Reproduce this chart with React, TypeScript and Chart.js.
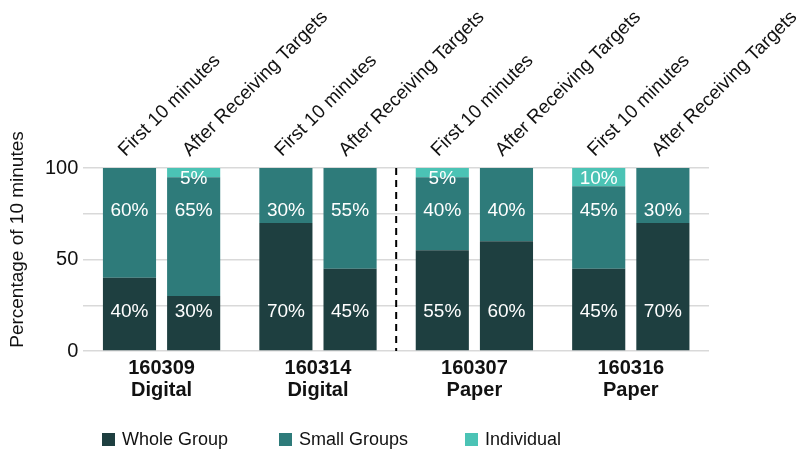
import React, { useEffect, useRef } from "react";
import { Chart, registerables } from "chart.js";

Chart.register(...registerables);

const categories: string[][] = [
  ["160309", "Digital"],
  ["160314", "Digital"],
  ["160307", "Paper"],
  ["160316", "Paper"],
];
const periods = ["First 10 minutes", "After Receiving Targets"];
const seriesNames = ["Whole Group", "Small Groups", "Individual"];

const wholeFirst = [40, 70, 55, 45];
const smallFirst = [60, 30, 40, 45];
const indivFirst = [0, 0, 5, 10];
const wholeAfter = [30, 45, 60, 70];
const smallAfter = [65, 55, 40, 30];
const indivAfter = [5, 0, 0, 0];

const yTickLabels = [0, 50, 100];
const yTitle = "Percentage of 10 minutes";

const COLORS = ["#1E3F40", "#2E7B7A", "#4BC3B5"];
const FONT = "'Liberation Sans', Arial, sans-serif";
// value levels where each series' percentage label is anchored
const LABEL_LEVELS = [22, 77, 94.5];

const valueLabels = {
  id: "valueLabels",
  afterDatasetsDraw(chart: any) {
    const { ctx } = chart;
    const y = chart.scales.y;
    ctx.save();
    ctx.fillStyle = "#ffffff";
    ctx.font = `19px ${FONT}`;
    ctx.textAlign = "center";
    ctx.textBaseline = "middle";
    chart.data.datasets.forEach((ds: any, i: number) => {
      const meta = chart.getDatasetMeta(i);
      const sIdx = ds.seriesIndex;
      meta.data.forEach((el: any, j: number) => {
        const v = ds.data[j];
        if (!v) return;
        ctx.fillText(`${v}%`, el.x, y.getPixelForValue(LABEL_LEVELS[sIdx]) + 1);
      });
    });
    ctx.restore();
  },
};

const periodLabels = {
  id: "periodLabels",
  afterDatasetsDraw(chart: any) {
    const { ctx, chartArea } = chart;
    ctx.save();
    ctx.fillStyle = "#111111";
    ctx.font = `19px ${FONT}`;
    ctx.textAlign = "left";
    ctx.textBaseline = "alphabetic";
    periods.forEach((p, pi) => {
      const dsIndex = pi * seriesNames.length;
      const meta = chart.getDatasetMeta(dsIndex);
      meta.data.forEach((el: any) => {
        ctx.save();
        ctx.translate(el.x - 4, chartArea.top - 11);
        ctx.rotate(-Math.PI / 4);
        ctx.fillText(p, 0, 0);
        ctx.restore();
      });
    });
    ctx.restore();
  },
};

const axisTitle = {
  id: "axisTitle",
  afterDraw(chart: any) {
    const { ctx, chartArea } = chart;
    ctx.save();
    ctx.fillStyle = "#111111";
    ctx.font = `19px ${FONT}`;
    ctx.textAlign = "center";
    ctx.textBaseline = "middle";
    ctx.translate(18, (chartArea.top + chartArea.bottom) / 2 - 20);
    ctx.rotate(-Math.PI / 2);
    ctx.fillText(yTitle, 0, 0);
    ctx.restore();
  },
};

const divider = {
  id: "divider",
  afterDatasetsDraw(chart: any) {
    const { ctx, chartArea } = chart;
    const x = chart.scales.x;
    const px = (x.getPixelForValue(1) + x.getPixelForValue(2)) / 2;
    ctx.save();
    ctx.strokeStyle = "#000000";
    ctx.lineWidth = 2;
    ctx.setLineDash([7, 5]);
    ctx.beginPath();
    ctx.moveTo(px, chartArea.top);
    ctx.lineTo(px, chartArea.bottom);
    ctx.stroke();
    ctx.restore();
  },
};

function ChartView() {
  const ref = useRef<HTMLCanvasElement | null>(null);
  useEffect(() => {
    if (!ref.current) return;
    const series = [
      [wholeFirst, smallFirst, indivFirst],
      [wholeAfter, smallAfter, indivAfter],
    ];
    const datasets: any[] = [];
    periods.forEach((p, pi) => {
      seriesNames.forEach((name, si) => {
        datasets.push({
          label: name,
          data: series[pi][si],
          backgroundColor: COLORS[si],
          borderWidth: 0,
          stack: p,
          seriesIndex: si,
          categoryPercentage: 0.8205,
          barPercentage: 0.828,
        });
      });
    });
    const chart = new Chart(ref.current, {
      type: "bar",
      data: { labels: categories, datasets },
      options: {
        responsive: false,
        animation: false,
        devicePixelRatio: 1,
        layout: { padding: { top: 168, right: 102, left: 40, bottom: 45 } },
        plugins: {
          legend: { display: false },
          tooltip: { enabled: false },
        },
        scales: {
          x: {
            stacked: true,
            grid: { display: false, drawTicks: false },
            border: { display: false },
            ticks: {
              color: "#111111",
              font: { family: FONT, size: 20, weight: "bold", lineHeight: 1.1 },
              padding: 6,
            },
          },
          y: {
            stacked: true,
            min: 0,
            max: 100,
            grid: { color: "#d9d9d9", lineWidth: 1.5, drawTicks: false },
            border: { display: false },
            ticks: {
              stepSize: 25,
              padding: 5,
              color: "#111111",
              font: { family: FONT, size: 20 },
              callback: (v: any) => (yTickLabels.includes(Number(v)) ? String(v) : ""),
            },
          },
        },
      },
      plugins: [valueLabels, periodLabels, divider, axisTitle],
    });
    return () => chart.destroy();
  }, []);
  return <canvas ref={ref} width={811} height={452} style={{ display: "block" }} />;
}

const legendLeft = [102, 279, 465];

export default function App() {
  return (
    <div
      style={{
        position: "fixed",
        left: 0,
        top: 0,
        width: 811,
        height: 452,
        background: "#ffffff",
        fontFamily: FONT,
      }}
    >
      <ChartView />
      {seriesNames.map((name, i) => (
        <div
          key={name}
          style={{
            position: "absolute",
            left: legendLeft[i],
            top: 428,
            height: 22,
            display: "flex",
            alignItems: "center",
            fontSize: 18,
            color: "#111111",
            whiteSpace: "nowrap",
          }}
        >
          <span
            style={{
              display: "inline-block",
              width: 13,
              height: 13,
              background: COLORS[i],
              marginRight: 7,
            }}
          />
          <span>{name}</span>
        </div>
      ))}
    </div>
  );
}
